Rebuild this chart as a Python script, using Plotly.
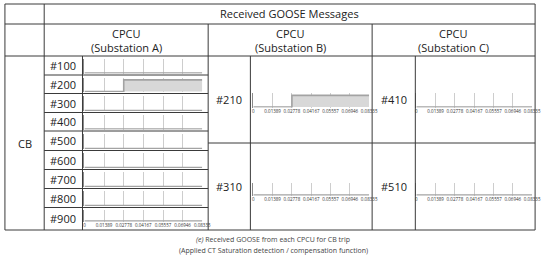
"""Received GOOSE messages table with step-signal mini charts."""

import plotly.graph_objects as go

W, H = 550, 258

# ---- data -----------------------------------------------------------------
tick_times = [0, 0.01389, 0.02778, 0.04167, 0.05557, 0.06946, 0.08335]
tick_labels = ["0", "0.01389", "0.02778", "0.04167", "0.05557", "0.06946", "0.08335"]

sig_time = [0, 0.02778, 0.02778, 0.08335]
sig_off = [0, 0, 0, 0]
sig_on = [0, 0, 1, 1]

cb_a = ["#100", "#200", "#300", "#400", "#500", "#600", "#700", "#800", "#900"]
goose_a = [sig_off, sig_on, sig_off, sig_off, sig_off, sig_off, sig_off, sig_off, sig_off]
cb_b = ["#210", "#310"]
goose_b = [sig_on, sig_off]
cb_c = ["#410", "#510"]
goose_c = [sig_off, sig_off]

header = "Received GOOSE Messages"
stations = ["(Substation A)", "(Substation B)", "(Substation C)"]
caption_1 = "<i>(e)</i> Received GOOSE from each CPCU for CB trip"
caption_2 = "(Applied CT Saturation detection / compensation function)"

# ---- geometry helpers (pixels -> paper) -------------------------------------
def px(x):
    return x / W


def py(y):
    return 1 - y / H


LINE = "#3a3a3a"
FONT = "Open Sans"
TXT = "#222222"

fig = go.Figure()
layout = {}
shapes = []
annotations = []


def hline(y, x0, x1):
    shapes.append(dict(type="line", xref="paper", yref="paper", x0=px(x0), x1=px(x1),
                       y0=py(y), y1=py(y), line=dict(color=LINE, width=1)))


def vline(x, y0, y1):
    shapes.append(dict(type="line", xref="paper", yref="paper", x0=px(x), x1=px(x),
                       y0=py(y0), y1=py(y1), line=dict(color=LINE, width=1)))


def label(text, x, y, size=11, color=TXT):
    annotations.append(dict(text=text, x=px(x), y=py(y), xref="paper", yref="paper",
                            showarrow=False, xanchor="center", yanchor="middle",
                            font=dict(family=FONT, size=size, color=color)))


n_axes = 0


def mini_chart(signal, x0, x1, top, bottom, show_labels):
    global n_axes
    n_axes += 1
    sfx = "" if n_axes == 1 else str(n_axes)
    fig.add_trace(go.Scatter(
        x=sig_time, y=signal, mode="lines",
        line=dict(color="#a3a3a3", width=1.6),
        fill="tozeroy", fillcolor="#d8d8d8",
        xaxis="x" + sfx, yaxis="y" + sfx, showlegend=False, hoverinfo="skip",
    ))
    layout["xaxis" + sfx] = dict(
        domain=[px(x0), px(x1)], anchor="y" + sfx, range=[0, tick_times[-1]],
        tickvals=tick_times, ticktext=tick_labels, showticklabels=show_labels,
        tickfont=dict(family=FONT, size=4.5, color="#333333"), ticks="", ticklen=0,
        showgrid=True, gridcolor="#cdcdcd", gridwidth=1, zeroline=False, showline=False,
        fixedrange=True,
    )
    layout["yaxis" + sfx] = dict(
        domain=[py(bottom), py(top)], anchor="x" + sfx, range=[-0.04, 1.2],
        showticklabels=False, showgrid=False, zeroline=False,
        showline=True, linecolor="#8a8a8a", linewidth=1, ticks="", fixedrange=True,
    )


# ---- table frame --------------------------------------------------------------
L, R, T, B = 4, 544, 4, 230
c1, cA, cB, cC = 44, 211, 378, R
for y in (T, 24, 56, B):
    hline(y, L, R)
for x in (L, c1, R):
    vline(x, T, B)
for x in (cA, cB):
    vline(x, 24, B)
for x in (83, 254, 422):
    vline(x, 56, B)

rows = [56, 75, 93.5, 112.5, 131, 150.5, 169.5, 188.5, 207.5, 230]
for y in rows[1:-1]:
    hline(y, c1, cA)
hline(143, cA, R)

# ---- header text --------------------------------------------------------------
label(header, (c1 + R) / 2, 14)
for name, (a, b) in zip(stations, [(c1, cA), (cA, cB), (cB, cC)]):
    label("CPCU", (a + b) / 2, 33)
    label(name, (a + b) / 2, 47)
label("CB", 24, 143)

# ---- substation A rows ----------------------------------------------------------
for k, (cb, sig) in enumerate(zip(cb_a, goose_a)):
    label(cb, 63.5, (rows[k] + rows[k + 1]) / 2)
    last = k == len(cb_a) - 1
    if last:
        mini_chart(sig, 85, 205, 210, 221.5, True)
    else:
        mini_chart(sig, 85, 205, rows[k] + 2.5, rows[k + 1] - 1.5, False)

# ---- substations B and C --------------------------------------------------------
cells = [(56, 143, 93, 107.5), (143, 230, 182.5, 195.5)]
for (ct, cbm, top, bot), cb, sig in zip(cells, cb_b, goose_b):
    label(cb, 232.5, (ct + cbm) / 2)
    mini_chart(sig, 257, 375, top, bot, True)
for (ct, cbm, top, bot), cb, sig in zip(cells, cb_c, goose_c):
    label(cb, 400, (ct + cbm) / 2)
    mini_chart(sig, 423, 541, top, bot, True)

# ---- caption ---------------------------------------------------------------------
label(caption_1, 277, 239, size=7, color="#444444")
label(caption_2, 278, 250, size=7, color="#444444")

fig.update_layout(
    width=W, height=H,
    margin=dict(l=0, r=0, t=0, b=0),
    paper_bgcolor="white", plot_bgcolor="white",
    showlegend=False,
    shapes=shapes, annotations=annotations,
    **layout,
)

# drop the default page margin so the figure sits at the window origin
fig.write_html("out.html", config={"displayModeBar": False},
               post_script="document.body.style.margin='0';")
